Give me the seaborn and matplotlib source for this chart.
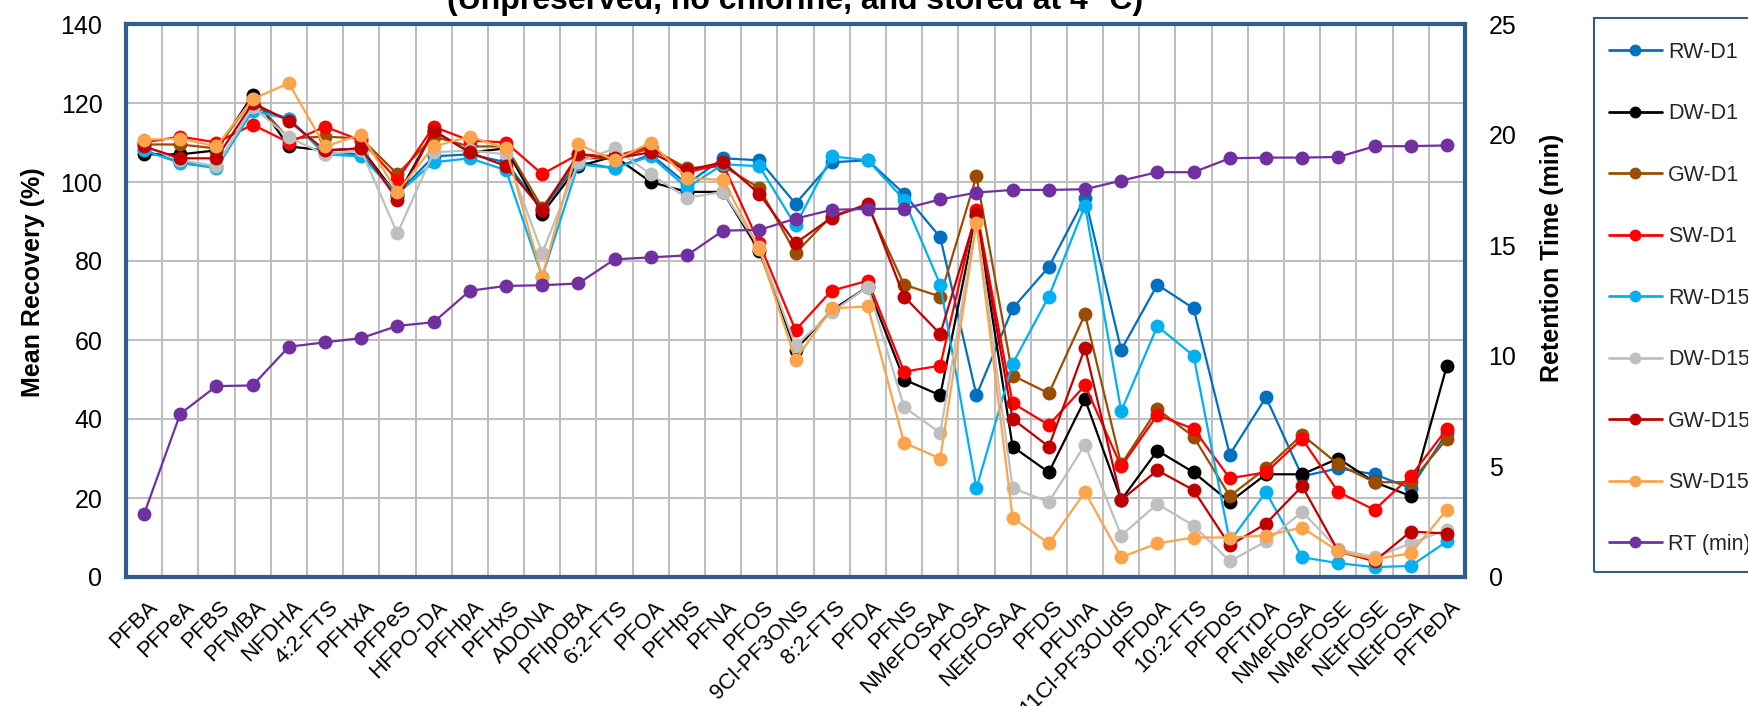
import numpy as np
import pandas as pd
import matplotlib
matplotlib.use("Agg")
import matplotlib.pyplot as plt
import matplotlib.transforms as mtransforms
from matplotlib.lines import Line2D
from matplotlib.patches import Rectangle
import seaborn as sns

# ---- data -------------------------------------------------------------
compounds = ["PFBA", "PFPeA", "PFBS", "PFMBA", "NFDHA", "4:2-FTS", "PFHxA", "PFPeS",
             "HFPO-DA", "PFHpA", "PFHxS", "ADONA", "PFIpOBA", "6:2-FTS", "PFOA", "PFHpS",
             "PFNA", "PFOS", "9Cl-PF3ONS", "8:2-FTS", "PFDA", "PFNS", "NMeFOSAA", "PFOSA",
             "NEtFOSAA", "PFDS", "PFUnA", "11Cl-PF3OUdS", "PFDoA", "10:2-FTS", "PFDoS",
             "PFTrDA", "NMeFOSA", "NMeFOSE", "NEtFOSE", "NEtFOSA", "PFTeDA"]

rw_d1 = [108, 105, 104, 119, 116, 107.5, 107, 97, 106.5, 107, 105, 93, 105, 103.5, 107, 99.5,
         106, 105.5, 94.5, 105, 105.5, 97, 86, 46, 68, 78.5, 96, 57.5, 74, 68, 31, 45.5,
         25.5, 27.5, 26, 22.5, 36.5]
dw_d1 = [107, 107, 108, 122, 109, 108, 108.5, 96.5, 113, 107.5, 108.5, 92, 104, 106.5, 100, 97.5,
         97.5, 82.5, 57.5, 67.5, 73.5, 50, 46, 91.5, 33, 26.5, 45, 19.5, 32, 26.5, 19, 26,
         26, 30, 24, 20.5, 53.5]
gw_d1 = [109.5, 109.5, 108.5, 121, 111, 111.5, 111, 102, 111.5, 109, 109, 93.5, 106, 106, 108.5, 103.5,
         104, 98.5, 82, 91.5, 94, 74, 71, 101.5, 51, 46.5, 66.5, 28.5, 42.5, 35.5, 20.5, 27.5,
         36, 28.5, 24, 24, 35]
sw_d1 = [110, 111.5, 110, 114.5, 110, 114, 110.5, 100.5, 114, 110.5, 110, 102, 107, 106.5, 109, 102.5,
         104.5, 84.5, 62.5, 72.5, 75, 52, 53.5, 93, 44, 38.5, 48.5, 28, 41, 37.5, 25, 26.5,
         35, 21.5, 17, 25.5, 37.5]
rw_d15 = [108, 104.8, 103.5, 118, 116, 107, 106.5, 97, 105, 106, 103, 76, 104.5, 103.5, 106.5, 98.5,
          104.5, 104, 89, 106.5, 105.5, 95.5, 74, 22.5, 54, 71, 94, 42, 63.5, 56, 9, 21.5,
          5, 3.5, 2.5, 2.8, 9]
dw_d15 = [109, 105.5, 104, 119, 111.3, 107, 108, 87, 107.5, 108, 107, 82, 105, 108.5, 102, 96,
          97.5, 83.5, 58.5, 67, 73.5, 43, 36.5, 90.5, 22.5, 19, 33.5, 10.5, 18.5, 13, 4, 9,
          16.5, 7, 5, 8.5, 12]
gw_d15 = [109, 106, 106, 120, 115.5, 108, 108.5, 95.5, 113, 107.5, 104, 93, 107, 106, 107.5, 103,
          105, 97, 84.5, 91, 94.5, 71, 61.5, 92, 40, 33, 58, 19.5, 27, 22, 8, 13.5,
          23, 6.5, 4, 11.5, 11]
sw_d15 = [110.7, 111, 109, 121, 125, 109, 112, 97.5, 109, 111.5, 108.5, 76, 109.5, 105.5, 110, 101,
          100.5, 83, 55, 68, 68.5, 34, 30, 89.5, 15, 8.5, 21.5, 5, 8.5, 10, 10, 10.5,
          12.5, 6.5, 4.5, 6, 17]
rt_min = [2.85, 7.38, 8.63, 8.66, 10.41, 10.61, 10.8, 11.35, 11.52, 12.94, 13.16, 13.19, 13.27,
          14.36, 14.45, 14.54, 15.66, 15.69, 16.2, 16.6, 16.64, 16.65, 17.07, 17.38, 17.5, 17.5,
          17.53, 17.92, 18.3, 18.3, 18.93, 18.96, 18.96, 18.99, 19.47, 19.48, 19.51]

series_names = ["RW-D1", "DW-D1", "GW-D1", "SW-D1", "RW-D15", "DW-D15", "GW-D15", "SW-D15"]
series_values = [rw_d1, dw_d1, gw_d1, sw_d1, rw_d15, dw_d15, gw_d15, sw_d15]
rt_name = "RT (min)"

colors = {"RW-D1": "#0070C0", "DW-D1": "#000000", "GW-D1": "#9A4D00", "SW-D1": "#FF0000",
          "RW-D15": "#00B0F0", "DW-D15": "#BFBFBF", "GW-D15": "#C00000", "SW-D15": "#FBA44C",
          rt_name: "#7030A0"}

# long-form table for seaborn
pos = np.arange(len(compounds))
recovery = pd.DataFrame({
    "pos": np.tile(pos, len(series_names)),
    "compound": compounds * len(series_names),
    "series": np.repeat(series_names, len(compounds)),
    "recovery": np.concatenate(series_values),
})
retention = pd.DataFrame({"pos": pos, "compound": compounds, "rt": rt_min})

# ---- figure -----------------------------------------------------------
sns.set_theme(style="white")
plt.rcParams["font.family"] = ["Liberation Sans", "DejaVu Sans"]

W, H = 1748, 706
fig = plt.figure(figsize=(W / 100, H / 100), dpi=100)
left, right, top, bottom = 126, 1465, 24, 577
ax = fig.add_axes([left / W, 1 - bottom / H, (right - left) / W, (bottom - top) / H])

frame_color = "#2F5E8E"
grid_color = "#BFBFBF"
ms = 10
lw = 1.6

sns.lineplot(data=recovery, x="pos", y="recovery", hue="series", hue_order=series_names,
             palette=colors, marker="o", markersize=ms, markeredgewidth=0,
             linewidth=lw, sort=False, legend=False, ax=ax, zorder=3)

ax.set_xlim(-0.5, len(compounds) - 0.5)
ax.set_ylim(0, 140)
ax.set_yticks(np.arange(0, 141, 20))
ax.set_xticks(pos)
ax.set_xticklabels(compounds)
ax.set_xticks(np.arange(-0.5, len(compounds), 1.0), minor=True)
ax.set_axisbelow(True)
ax.grid(False)
ax.grid(True, which="minor", axis="x", color=grid_color, linewidth=1.5)
ax.grid(True, which="major", axis="y", color=grid_color, linewidth=1.5)
ax.tick_params(axis="both", which="both", length=0)
ax.tick_params(axis="y", labelsize=18, pad=17, labelcolor="black")
ax.tick_params(axis="x", labelsize=16, pad=14, labelcolor="black")
for lab in ax.get_xticklabels():
    lab.set_rotation(45)
    lab.set_ha("right")
    lab.set_va("top")
    lab.set_rotation_mode("anchor")
    lab.set_transform(lab.get_transform() + mtransforms.ScaledTranslation(3 / 100, 0, fig.dpi_scale_trans))
for sp in ax.spines.values():
    sp.set_visible(True)
    sp.set_color(frame_color)
    sp.set_linewidth(3)

ax.set_xlabel("")
ax.set_ylabel("Mean Recovery (%)", fontsize=18, fontweight="bold", color="black")
ax.yaxis.label.set_va("center")
ax.yaxis.set_label_coords((33 - left) / (right - left), (bottom - 282) / (bottom - top))

# retention time on the secondary axis
ax2 = ax.twinx()
sns.lineplot(data=retention, x="pos", y="rt", color=colors[rt_name], marker="o",
             markersize=ms, markeredgewidth=0, linewidth=lw, sort=False, ax=ax2, zorder=4)
ax2.set_ylim(0, 25)
ax2.set_yticks(np.arange(0, 26, 5))
ax2.grid(False)
ax2.tick_params(axis="y", length=0, labelsize=18, pad=17, labelcolor="black")
for sp in ax2.spines.values():
    sp.set_visible(False)
ax2.set_ylabel("Retention Time (min)", fontsize=18, fontweight="bold", color="black")
ax2.yaxis.label.set_va("center")
ax2.yaxis.set_label_coords((1552 - left) / (right - left), (bottom - 258) / (bottom - top))

ax.set_title("(Unpreserved, no chlorine, and stored at 4 °C)", fontsize=23,
             fontweight="bold", pad=10.5, color="black")

# legend
handles = [Line2D([0], [0], color=colors[n], marker="o", markersize=8.5, markeredgewidth=0,
                  linewidth=2) for n in series_names + [rt_name]]
fig.legend(handles, series_names + [rt_name], loc="upper left",
           bbox_to_anchor=(1609 / W, 1 - 42 / H), frameon=False, fontsize=15.5,
           handlelength=2.45, handletextpad=0.3, labelspacing=1.88, borderpad=0,
           borderaxespad=0)
fig.patches.append(Rectangle((1594 / W, 1 - 572 / H), 200 / W, (572 - 18) / H,
                             transform=fig.transFigure, fill=False,
                             edgecolor=frame_color, linewidth=1.5))

fig.savefig("out.png", dpi=100)
